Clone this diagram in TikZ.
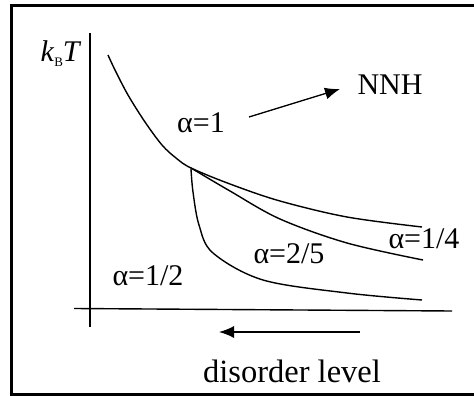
\documentclass[tikz,border=0pt]{standalone}
\usepackage{fontspec}
\setmainfont{Liberation Serif}
\usetikzlibrary{arrows.meta}
\begin{document}
\begin{tikzpicture}[x=1pt,y=-1pt,
  curve/.style={line width=1.4pt},
  axisline/.style={line width=1.4pt},
  arr/.style={line width=1.3pt,-{Latex[length=15pt,width=12pt]}},
  lbl/.style={anchor=base,inner sep=0pt,font=\fontsize{30}{36}\selectfont}]
\useasboundingbox (0,0) rectangle (474,396);
\fill[white] (0,0) rectangle (474,396);
\draw[line width=3pt] (474,5.5) -- (11.5,5.5) -- (11.5,394.5) -- (474,394.5);
% axes
\coordinate (yt) at (90,33);
\coordinate (yb) at (90,327);
\coordinate (xl) at (74,308.5);
\coordinate (xr) at (452,311);
\draw[axisline] (yt) -- (yb);
\draw[axisline] (xl) -- (xr);
% curves
\coordinate (j) at (190,168);
\draw[curve] plot[smooth,tension=0.55] coordinates {(108,55) (115,70) (128,95) (145,122) (162,145) (176,158) (191,168) (230,184) (280,201) (347,217) (422,227)};
\draw[curve] plot[smooth,tension=0.55] coordinates {(191,168) (230,191) (280,219) (347,243) (423,260)};
\draw[curve] plot[smooth,tension=0.55] coordinates {(191,169) (193,192) (199,225) (213,253) (263,280) (347,293) (422,300)};
% labels
\node[lbl] (kbt) at (61,62) {\textit{k}\raisebox{-0.3ex}{\fontsize{13}{14}\selectfont B}\textit{T}};
\node[lbl] (nnh) at (390,95) {NNH};
\node[lbl] (a1) at (201,132) {α=1};
\node[lbl] (a14) at (424,248) {α=1/4};
\node[lbl] (a25) at (289,263) {α=2/5};
\node[lbl] (a12) at (148,285) {α=1/2};
\node[lbl,font=\fontsize{32.5}{38}\selectfont] (dl) at (292,382) {disorder level};
% arrows
\coordinate (n1) at (249,117);
\coordinate (n2) at (340,89);
\draw[arr] (n1) -- (n2);
\coordinate (d1) at (360,332);
\coordinate (d2) at (219,332);
\draw[arr] (d1) -- (d2);
\end{tikzpicture}
\end{document}
